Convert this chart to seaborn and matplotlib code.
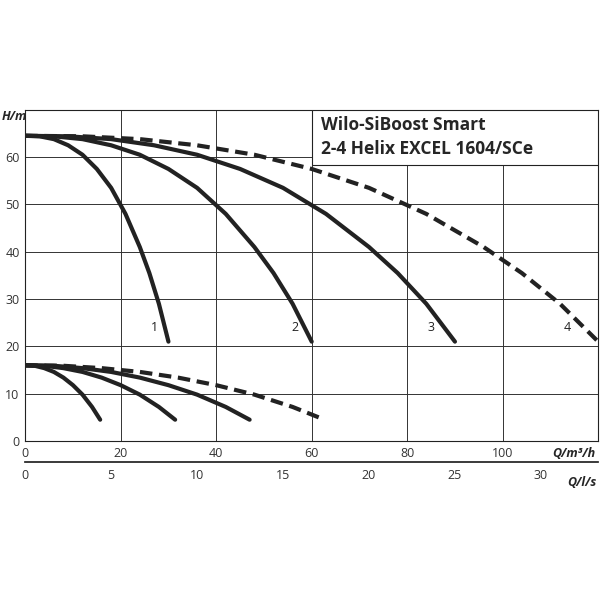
import numpy as np
import matplotlib.pyplot as plt
import seaborn as sns
from matplotlib.patches import Rectangle

sns.set_theme(style="white")
plt.rcParams['font.family'] = ['Open Sans', 'DejaVu Sans']

# Head curves (Q in m3/h, H in m)
q1 = [0, 3, 6, 9, 12, 15, 18, 21, 24, 26, 28, 30]
q2 = [0, 6, 12, 18, 24, 30, 36, 42, 48, 52, 56, 60]
q3 = [0, 9, 18, 27, 36, 45, 54, 63, 72, 78, 84, 90]
q4 = [0, 12, 24, 36, 48, 60, 72, 84, 96, 104, 112, 120]
hp = [64.5, 64.4, 63.8, 62.5, 60.5, 57.5, 53.5, 48, 41, 35.5, 29, 21]

# lower curves
ql1 = [0, 2, 4, 6, 8, 10, 12, 14, 15.7]
ql2 = [0, 4, 8, 12, 16, 20, 24, 28, 31.4]
ql3 = [0, 6, 12, 18, 24, 30, 36, 42, 47]
ql4 = [0, 8, 16, 24, 32, 40, 48, 56, 62.7]
hl = [16, 15.9, 15.4, 14.6, 13.4, 11.8, 9.8, 7.2, 4.5]

labels = ["1", "2", "3", "4"]
label_q = [27, 56.5, 85, 113.5]
label_h = 24

fig = plt.figure(figsize=(6, 6), dpi=100)
ax = fig.add_axes([0.042, 0.265, 0.955, 0.552])

for q in [q1, q2, q3]:
    sns.lineplot(x=q, y=hp, ax=ax, color="#222222", lw=3, sort=False)
sns.lineplot(x=q4, y=hp, ax=ax, color="#222222", lw=3, ls=(0, (3, 1.6)), sort=False)
for q in [ql1, ql2, ql3]:
    sns.lineplot(x=q, y=hl, ax=ax, color="#222222", lw=3, sort=False)
sns.lineplot(x=ql4, y=hl, ax=ax, color="#222222", lw=3, ls=(0, (3, 1.6)), sort=False)

for lab, q in zip(labels, label_q):
    ax.text(q, label_h, lab, fontsize=9, ha="center", va="center", color="#222222")

ax.set_xlim(0, 120)
ax.set_ylim(0, 70)
ax.set_xticks(range(0, 120, 20))
ax.set_yticks(range(0, 70, 10))
ax.grid(True, color="#333333", lw=0.7)
for s in ax.spines.values():
    s.set_color("#222222")
    s.set_linewidth(0.8)
ax.tick_params(labelsize=9, colors="#333333", length=0, pad=4)
ax.set_xlabel("")
ax.set_ylabel("")

fig.text(0.003, 0.805, "H/m", fontsize=9, style="italic", ha="left", va="center", fontweight="bold")
ax.text(119.5, -1.2, "Q/m³/h", fontsize=9, style="italic", ha="right", va="top", fontweight="bold")

ax.add_patch(Rectangle((60, 58.3), 60, 11.7, facecolor="white", edgecolor="#222222", lw=0.8, zorder=5))
ax.text(62, 64.2, "Wilo-SiBoost Smart\n2-4 Helix EXCEL 1604/SCe", fontsize=12.5,
        fontweight="bold", ha="left", va="center", linespacing=1.4, zorder=6)

ax2 = fig.add_axes([0.042, 0.23, 0.955, 0.0001])
ax2.set_xlim(0, 120 / 3.6)
ax2.set_xticks(range(0, 35, 5))
ax2.set_yticks([])
for k in ["left", "right", "top"]:
    ax2.spines[k].set_visible(False)
ax2.spines["bottom"].set_color("#222222")
ax2.tick_params(axis="x", labelsize=9, colors="#333333", length=4, direction="in", pad=5)
fig.text(0.995, 0.195, "Q/l/s", fontsize=9, style="italic", ha="right", va="center", fontweight="bold")

fig.savefig("out.png", dpi=100)
